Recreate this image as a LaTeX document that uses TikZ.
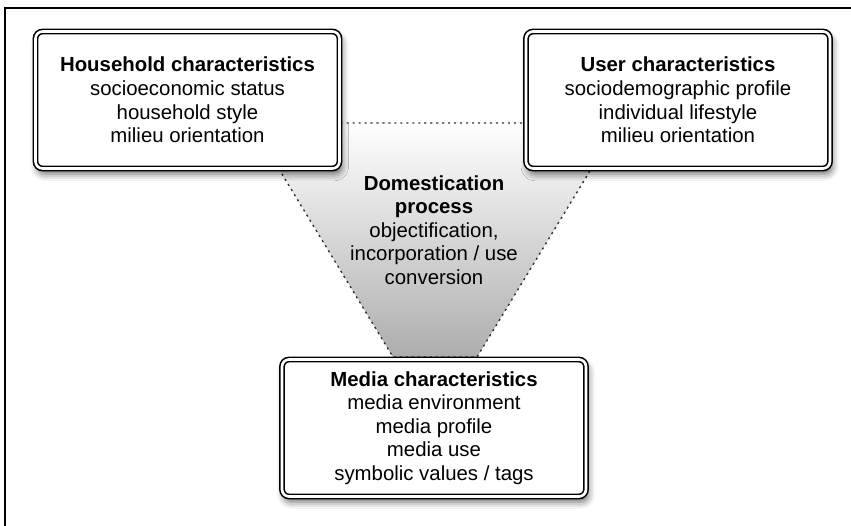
\documentclass[tikz,border=0pt]{standalone}
\usepackage{fontspec}
\setmainfont{Liberation Sans}
\usetikzlibrary{shadows.blur,positioning}

\begin{document}
\begin{tikzpicture}[x=0.02cm,y=-0.02cm,
        box/.style={rectangle,rounded corners=4pt,draw=black,line width=0.9pt,double=white,double distance=1.5pt,fill=white,
            align=center,inner sep=0pt,minimum width=6.08cm,minimum height=2.74cm,font=\fontsize{11.6}{13.4}\selectfont,
            blur shadow={shadow xshift=1.2pt,shadow yshift=-3pt,shadow blur radius=4pt,shadow opacity=60}},
        label/.style={align=center,inner sep=0pt,font=\fontsize{11.6}{13.4}\selectfont},
        edge/.style={draw=black!80,line width=0.8pt,dash pattern=on 1.2pt off 2.2pt}]
        \useasboundingbox (0,0) rectangle (851,526);

        % frame
        \draw[line width=1.1pt] (5,526) -- (5,8) -- (851,8);

        % funnel
        \coordinate (tl) at (251,123);
        \coordinate (tr) at (619,123);
        \coordinate (br) at (477,357);
        \coordinate (bl) at (393,357);
        \shade[top color=white,bottom color=black!32] (tl) -- (tr) -- (br) -- (bl) -- cycle;
        \draw[edge] (tl) -- (tr) -- (br) -- (bl) -- cycle;

        \node[label] (domest) at (434,230) {\textbf{Domestication}\\\textbf{process}\\objectification,\\incorporation / use\\conversion};

        % boxes
        \node[box] (house) at (187.5,100) {\textbf{Household characteristics}\\socioeconomic status\\household style\\milieu orientation};
        \node[box] (user) at (678,100) {\textbf{User characteristics}\\sociodemographic profile\\individual lifestyle\\milieu orientation};
        \node[box] (media) at (434,428) {\textbf{Media characteristics}\\media environment\\media profile\\media use\\symbolic values / tags};

    \end{tikzpicture}
\end{document}
